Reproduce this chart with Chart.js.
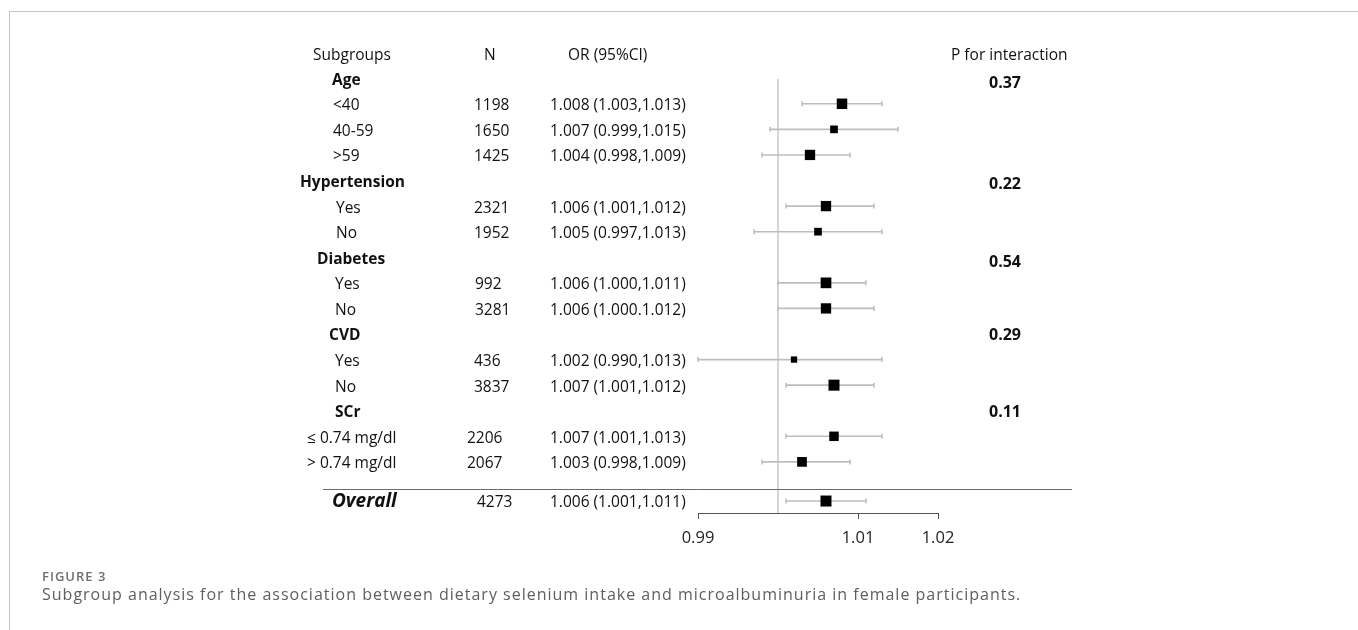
<!DOCTYPE html>
<html><head><meta charset="utf-8">
<script src="https://cdn.jsdelivr.net/npm/chart.js@4.4.1/dist/chart.umd.min.js"></script>
<style>
html,body{margin:0;padding:0;background:#fff;width:1358px;height:630px;overflow:hidden;}
#frame{position:absolute;left:9px;top:11px;right:-2px;bottom:-2px;border-top:1px solid #c4c4c4;border-left:1px solid #c4c4c4;}
#c{position:absolute;left:0;top:0;}
#fig{position:absolute;left:42px;top:567px;font:600 13px 'Open Sans',sans-serif;letter-spacing:1px;color:#6e6e6e;white-space:nowrap;}
#cap{position:absolute;left:42px;top:583px;font:16px 'Open Sans',sans-serif;letter-spacing:1px;color:#5e5e5e;white-space:nowrap;}
</style></head><body>
<div id="frame"></div>
<canvas id="c" width="1358" height="630"></canvas>
<div id="fig">FIGURE 3</div>
<div id="cap">Subgroup analysis for the association between dietary selenium intake and microalbuminuria in female participants.</div>
<script>
// ---------------- DATA ----------------
const headers = ['Subgroups', 'N', 'OR (95%CI)', 'P for interaction'];
const groups = ['Age', 'Hypertension', 'Diabetes', 'CVD', 'SCr'];
const pInteraction = ['0.37', '0.22', '0.54', '0.29', '0.11'];
const subgroups = ['<40', '40-59', '>59', 'Yes', 'No', 'Yes', 'No', 'Yes', 'No', '\u2264 0.74 mg/dl', '> 0.74 mg/dl'];
const subgroupOf = [0, 0, 0, 1, 1, 2, 2, 3, 3, 4, 4];
const nValues = [1198, 1650, 1425, 2321, 1952, 992, 3281, 436, 3837, 2206, 2067];
const orValues = [1.008, 1.007, 1.004, 1.006, 1.005, 1.006, 1.006, 1.002, 1.007, 1.007, 1.003];
const ciLower = [1.003, 0.999, 0.998, 1.001, 0.997, 1.000, 1.000, 0.990, 1.001, 1.001, 0.998];
const ciUpper = [1.013, 1.015, 1.009, 1.012, 1.013, 1.011, 1.012, 1.013, 1.012, 1.013, 1.009];
const orLabels = ['1.008 (1.003,1.013)', '1.007 (0.999,1.015)', '1.004 (0.998,1.009)',
  '1.006 (1.001,1.012)', '1.005 (0.997,1.013)', '1.006 (1.000,1.011)', '1.006 (1.000.1.012)',
  '1.002 (0.990,1.013)', '1.007 (1.001,1.012)', '1.007 (1.001,1.013)', '1.003 (0.998,1.009)'];
const overallLabel = 'Overall';
const overallN = 4273;
const overallOR = 1.006;
const overallLower = 1.001;
const overallUpper = 1.011;
const overallORLabel = '1.006 (1.001,1.011)';
const xTicks = [0.99, 1.01, 1.02];
const xMin = 0.99, xMax = 1.02;
const refValue = 1.00;

// ---------------- LAYOUT / STYLE ----------------
const FONT = '"Open Sans", sans-serif';
const TEXT_DY = 2;
const boxSide = [10.5, 7.7, 10.3, 10.3, 7.7, 10.7, 10.3, 6.3, 11, 9.5, 9.7];
const overallBoxSide = 11;
const groupLabelX = [332, 300, 317, 329, 335];
const itemLabelX = [333, 336, 335, 335, 307];
const nX = [474, 474, 475, 474, 467];
const orX = 550;
const pX = 1005;
const pDY = [3, 2, 3, -1, 0];
const headerX = [313, 484, 568, 951];
const HEADER_ROW = -0.946, OVERALL_GAP = 1.53, SEP_ROW_OFFSET = -0.47, REF_TOP_ROW = 0.03;
const Y_MIN = -1.689, Y_MAX = 16.998;

// row indices
const groupRow = [], itemRow = [];
let r = 0;
groups.forEach((g, gi) => {
  groupRow[gi] = r++;
  subgroupOf.forEach((s, i) => { if (s === gi) itemRow[i] = r++; });
});
const overallRow = r - 1 + OVERALL_GAP;

const boxData = orValues.map((v, i) => ({ x: v, y: itemRow[i] }));
boxData.push({ x: overallOR, y: overallRow });
const sides = boxSide.concat([overallBoxSide]);

const whiskerData = [];
subgroups.forEach((s, i) => {
  whiskerData.push({ x: ciLower[i], y: itemRow[i] }, { x: ciUpper[i], y: itemRow[i] }, { x: null, y: null });
});
whiskerData.push({ x: overallLower, y: overallRow }, { x: overallUpper, y: overallRow });

const forestPlugin = {
  id: 'forestPlugin',
  beforeDatasetsDraw(chart) {
    const { ctx, scales: { x, y }, chartArea } = chart;
    ctx.save();
    ctx.strokeStyle = '#c8c8c8';
    ctx.lineWidth = 1.5;
    const px = x.getPixelForValue(refValue);
    ctx.beginPath();
    ctx.moveTo(px, y.getPixelForValue(REF_TOP_ROW));
    ctx.lineTo(px, chartArea.bottom);
    ctx.stroke();
    ctx.strokeStyle = '#6a6a6a';
    ctx.lineWidth = 1;
    const sy = Math.round(y.getPixelForValue(overallRow + SEP_ROW_OFFSET)) + 0.5;
    ctx.beginPath();
    ctx.moveTo(323, sy);
    ctx.lineTo(1072, sy);
    ctx.stroke();
    ctx.restore();
  },
  afterDraw(chart) {
    const { ctx, scales: { y } } = chart;
    const py = v => y.getPixelForValue(v) + TEXT_DY;
    ctx.save();
    ctx.textBaseline = 'middle';
    ctx.fillStyle = '#111';
    const reg = '15.5px ' + FONT, bold = 'bold 15.5px ' + FONT;
    ctx.font = reg;
    const hy = py(HEADER_ROW);
    headers.forEach((h, i) => ctx.fillText(h, headerX[i], hy));
    groups.forEach((g, gi) => {
      const gy = py(groupRow[gi]);
      ctx.font = bold; ctx.textAlign = 'left';
      ctx.fillText(g, groupLabelX[gi], gy);
      ctx.font = 'bold 16px ' + FONT; ctx.textAlign = 'center';
      ctx.fillText(pInteraction[gi], pX, gy + pDY[gi]);
    });
    ctx.textAlign = 'left';
    ctx.font = reg;
    subgroups.forEach((s, i) => {
      const iy = py(itemRow[i]);
      const gi = subgroupOf[i];
      ctx.fillText(s, itemLabelX[gi], iy);
      ctx.fillText(String(nValues[i]), nX[gi], iy);
      ctx.fillText(orLabels[i], orX, iy);
    });
    const oy = py(overallRow);
    ctx.fillText(String(overallN), 477, oy);
    ctx.fillText(overallORLabel, orX, oy);
    ctx.font = 'italic bold 19px ' + FONT;
    ctx.fillText(overallLabel, 332, oy - 1);
    ctx.restore();
  }
};

new Chart(document.getElementById('c'), {
  type: 'scatter',
  data: {
    datasets: [
      {
        data: boxData,
        pointStyle: 'rect',
        pointRadius: ctx => sides[ctx.dataIndex] / Math.SQRT2,
        pointHoverRadius: ctx => sides[ctx.dataIndex] / Math.SQRT2,
        pointBackgroundColor: '#000',
        pointBorderWidth: 0,
        pointHoverBorderWidth: 0,
        showLine: false,
        clip: false,
        order: 0
      },
      {
        data: whiskerData,
        showLine: true,
        spanGaps: false,
        borderColor: '#bdbdbd',
        borderWidth: 1.6,
        pointStyle: 'line',
        pointRotation: 90,
        pointRadius: 2.5,
        pointHoverRadius: 2.5,
        pointBorderColor: '#bdbdbd',
        pointBorderWidth: 1.5,
        clip: false,
        order: 1
      }
    ]
  },
  options: {
    responsive: false,
    animation: false,
    events: [],
    layout: { padding: { left: 698, right: 420, top: 35, bottom: 77 } },
    plugins: { legend: { display: false }, tooltip: { enabled: false } },
    scales: {
      x: {
        type: 'linear', min: xMin, max: xMax, position: 'bottom',
        afterBuildTicks: s => { s.ticks = xTicks.map(v => ({ value: v })); },
        afterFit: s => { s.height = 40; },
        ticks: { callback: v => Number(v).toFixed(2), font: { family: 'Open Sans', size: 16.5 }, color: '#222', padding: 9, maxRotation: 0, autoSkip: false },
        grid: { drawOnChartArea: false, drawTicks: true, tickLength: 6, color: '#555' },
        border: { display: true, color: '#555', width: 1 }
      },
      y: { type: 'linear', reverse: true, min: Y_MIN, max: Y_MAX, display: false }
    }
  },
  plugins: [forestPlugin]
});
</script>
</body></html>
